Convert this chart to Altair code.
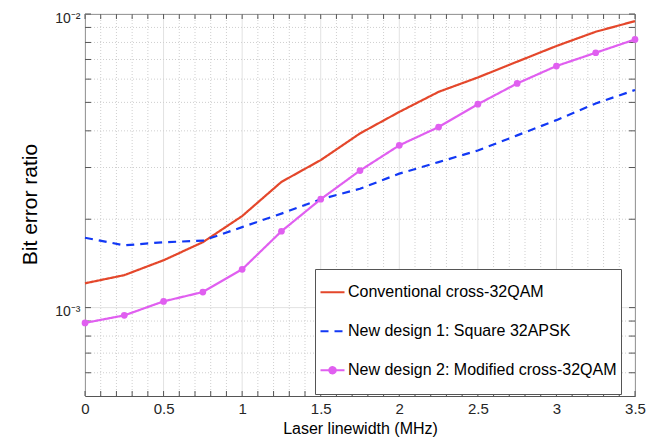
import altair as alt
import pandas as pd

# ---------------- data ----------------
x_vals = [0, 0.25, 0.5, 0.75, 1.0, 1.25, 1.5, 1.75, 2.0, 2.25, 2.5, 2.75, 3.0, 3.25, 3.5]
conventional = [1.21e-3, 1.29e-3, 1.45e-3, 1.67e-3, 2.05e-3, 2.68e-3, 3.18e-3, 3.92e-3,
                4.64e-3, 5.43e-3, 6.08e-3, 6.88e-3, 7.78e-3, 8.70e-3, 9.46e-3]
square_apsk = [1.73e-3, 1.63e-3, 1.67e-3, 1.69e-3, 1.88e-3, 2.09e-3, 2.34e-3, 2.54e-3,
               2.86e-3, 3.13e-3, 3.43e-3, 3.86e-3, 4.35e-3, 4.96e-3, 5.51e-3]
modified = [8.87e-4, 9.41e-4, 1.05e-3, 1.13e-3, 1.35e-3, 1.82e-3, 2.34e-3, 2.93e-3,
            3.57e-3, 4.12e-3, 4.93e-3, 5.80e-3, 6.65e-3, 7.38e-3, 8.19e-3]
series_names = ["Conventional cross-32QAM",
                "New design 1: Square 32APSK",
                "New design 2: Modified cross-32QAM"]

x_major = [0, 0.5, 1.0, 1.5, 2.0, 2.5, 3.0, 3.5]
x_minor = [0.1, 0.2, 0.3, 0.4, 0.6, 0.7, 0.8, 0.9, 1.1, 1.2, 1.3, 1.4, 1.6, 1.7, 1.8, 1.9,
           2.1, 2.2, 2.3, 2.4, 2.6, 2.7, 2.8, 2.9, 3.1, 3.2, 3.3, 3.4]
y_major = [1e-3, 1e-2]
y_minor = [6e-4, 7e-4, 8e-4, 9e-4, 2e-3, 3e-3, 4e-3, 5e-3, 6e-3, 7e-3, 8e-3, 9e-3]

# ---------------- styles ----------------
colors = ["#e4472b", "#1238f5", "#e05ff0"]
dashes = [[1, 0], [8, 6], [1, 0]]
magenta_path = "M-1,0H1M0.26,0A0.26,0.26,0,1,1,-0.26,0A0.26,0.26,0,1,1,0.26,0Z"
shapes = ["stroke", "stroke", magenta_path]
FONT = "Liberation Sans"
W, H = 550, 382
FRAME = "#555555"

df = pd.DataFrame({
    "x": x_vals * 3,
    "y": conventional + square_apsk + modified,
    "series": [series_names[0]] * len(x_vals) + [series_names[1]] * len(x_vals)
              + [series_names[2]] * len(x_vals),
})

xs = alt.Scale(domain=[0, 3.5], nice=False, zero=False)
ys = alt.Scale(type="log", domain=[5e-4, 1e-2], nice=False)

XA = alt.Axis(
    values=x_major, format="~g", labelFont=FONT, labelFontSize=15, labelColor="#262626",
    ticks=False, tickSize=0, domain=False, grid=False, labelPadding=5, labelFlush=False,
    labelOverlap=False, title="Laser linewidth (MHz)", titleFont=FONT, titleFontSize=16,
    titleFontWeight="normal", titleColor="#000000", titleY=37, titleBaseline="alphabetic")
YA = alt.Axis(
    values=[0.001, 0.01], labelExpr="datum.value < 0.005 ? '10⁻³' : '10⁻²'",
    labelFont=FONT, labelFontSize=14, labelColor="#262626", ticks=False, tickSize=0,
    domain=False, grid=False, labelPadding=5, labelOffset=4, labelOverlap=False,
    title="Bit error ratio", titleFont=FONT, titleFontSize=21, titleFontWeight="normal",
    titleColor="#000000", titleX=-49, titleY=H / 2 - 1, titleAngle=-90,
    titleAlign="center", titleBaseline="alphabetic")


def X(field="x"):
    return alt.X(f"{field}:Q", scale=xs, axis=XA)


def Y(field="y"):
    return alt.Y(f"{field}:Q", scale=ys, axis=YA)


legend = alt.Legend(
    orient="none", legendX=230, legendY=255, title=None,
    labelFont=FONT, labelFontSize=16, labelColor="#000000",
    symbolSize=576, symbolStrokeWidth=2.2, padding=4, clipHeight=38.5,
    rowPadding=0, labelOffset=2, fillColor="white", strokeColor=FRAME,
    labelLimit=400,
)
color_enc = alt.Color("series:N", scale=alt.Scale(domain=series_names, range=colors), legend=legend)
dash_enc = alt.StrokeDash("series:N", scale=alt.Scale(domain=series_names, range=dashes), legend=legend)
shape_enc = alt.Shape("series:N", scale=alt.Scale(domain=series_names, range=shapes), legend=legend)

xg = pd.DataFrame({"x": x_minor})
xG = pd.DataFrame({"x": x_major})
yg = pd.DataFrame({"y": y_minor})
yG = pd.DataFrame({"y": y_major})
xt = pd.DataFrame({"x": x_major + x_minor})
yt = pd.DataFrame({"y": y_minor + y_major})

grid_x_minor = alt.Chart(xg).mark_rule(color="#cfcfcf", strokeDash=[1, 2], strokeWidth=1).encode(x=X())
grid_x_major = alt.Chart(xG).mark_rule(color="#e2e2e2", strokeWidth=1).encode(x=X())
grid_y_minor = alt.Chart(yg).mark_rule(color="#cfcfcf", strokeDash=[1, 2], strokeWidth=1).encode(y=Y())
grid_y_major = alt.Chart(yG).mark_rule(color="#e2e2e2", strokeWidth=1).encode(y=Y())

tick_bottom = alt.Chart(xt).mark_rule(color=FRAME).encode(
    x=X(), y=alt.value(H), y2=alt.value(H - 5))
tick_top = alt.Chart(xt).mark_rule(color=FRAME).encode(
    x=X(), y=alt.value(0), y2=alt.value(5))
tick_left = alt.Chart(yt).mark_rule(color=FRAME).encode(
    y=Y(), x=alt.value(0), x2=alt.value(6))
tick_right = alt.Chart(yt).mark_rule(color=FRAME).encode(
    y=Y(), x=alt.value(W), x2=alt.value(W - 6))

lines = alt.Chart(df).mark_line(strokeWidth=2.2).encode(
    x=X(), y=Y(),
    color=color_enc,
    strokeDash=dash_enc,
    order="x:Q",
)

points = alt.Chart(df).transform_filter(
    alt.datum.series == series_names[2]
).mark_point(filled=True, size=45, opacity=1, color=colors[2]).encode(x=X(), y=Y())

legend_layer = alt.Chart(df).transform_filter("false").mark_point(filled=True, opacity=1).encode(
    x=X(), y=Y(),
    color=color_enc,
    shape=shape_enc,
)

chart = alt.layer(
    grid_x_minor, grid_x_major, grid_y_minor, grid_y_major,
    tick_bottom, tick_top, tick_left, tick_right,
    lines, points, legend_layer,
).properties(
    width=W, height=H,
    padding={"left": 85, "top": 14, "right": 12, "bottom": 45},
    autosize=alt.AutoSizeParams(type="none"),
    background="white",
).configure_view(stroke=FRAME, strokeWidth=1)

chart.save("out.html", embed_options={"renderer": "svg", "actions": False})
